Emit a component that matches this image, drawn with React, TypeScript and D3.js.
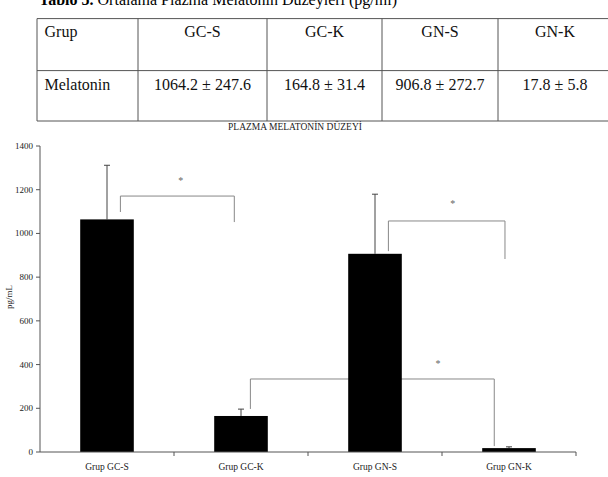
import React from "react";
import * as d3 from "d3";

const categories = ["Grup GC-S", "Grup GC-K", "Grup GN-S", "Grup GN-K"];
const means = [1064.2, 164.8, 906.8, 17.8];
const errors = [247.6, 31.4, 272.7, 5.8];
const yTicks = [0, 200, 400, 600, 800, 1000, 1200, 1400];

const tableHeader = ["Grup", "GC-S", "GC-K", "GN-S", "GN-K"];
const tableRow = ["Melatonin", "1064.2 ± 247.6", "164.8 ± 31.4", "906.8 ± 272.7", "17.8 ± 5.8"];

// significance brackets: from category/offset to category/offset, top value, leg ends, star position
const brackets = [
  { from: 0, fromOff: 0.1, to: 1, toOff: -0.05, top: 1171, fromEnd: 1098, toEnd: 1052, starCat: 0.55, starVal: 1245 },
  { from: 2, fromOff: 0.1, to: 3, toOff: -0.03, top: 1057, fromEnd: 919, toEnd: 883, starCat: 2.58, starVal: 1140 },
  { from: 1, fromOff: 0.07, to: 3, toOff: -0.11, top: 334, fromEnd: 197, toEnd: 27, starCat: 2.47, starVal: 408 },
];

const FONT = "'Liberation Serif', 'Times New Roman', serif";

export default function App() {
  const W = 608, H = 477;
  const left = 40, right = 576, top = 146, bottom = 452;
  const x = d3.scaleBand<string>().domain(categories).range([left, right]).padding(0);
  const y = d3.scaleLinear().domain([0, 1400]).range([bottom, top]);
  const bw = x.bandwidth() * 0.4;
  const cx = (i: number) => (x(categories[i]) as number) + x.bandwidth() / 2;
  const cxf = (f: number) => left + (f + 0.5) * x.bandwidth();

  const colX = [37, 138, 267, 382, 498, 612];
  const rowY = [18.6, 70.6, 121];
  const ts = { fontFamily: FONT };

  return (
    <svg width={W} height={H} style={{ position: "absolute", left: 0, top: 0, background: "#fff", fontFamily: FONT }}>
      <rect width={W} height={H} fill="#fff" />
      {/* caption (clipped at top) */}
      <text x={39} y={5} fontSize={16} fill="#000" style={ts}>
        <tspan fontWeight="bold">Tablo 5.</tspan>
        <tspan> Ortalama Plazma Melatonin Düzeyleri (pg/ml)</tspan>
      </text>
      {/* table */}
      <g stroke="#555" strokeWidth={1}>
        {rowY.map((ry, i) => (
          <line key={"r" + i} x1={colX[0]} x2={colX[colX.length - 1]} y1={ry} y2={ry} />
        ))}
        {colX.map((cxx, i) => (
          <line key={"c" + i} x1={cxx} x2={cxx} y1={rowY[0]} y2={rowY[2]} />
        ))}
      </g>
      {tableHeader.map((t, i) => (
        <text key={"h" + i} x={i === 0 ? 44.5 : (colX[i] + colX[i + 1]) / 2} y={37} fontSize={16} style={ts}
          textAnchor={i === 0 ? "start" : "middle"} fill="#111">{t}</text>
      ))}
      {tableRow.map((t, i) => (
        <text key={"v" + i} x={i === 0 ? 44.5 : (colX[i] + colX[i + 1]) / 2} y={89.5} fontSize={16} style={ts}
          textAnchor={i === 0 ? "start" : "middle"} fill="#111">{t}</text>
      ))}

      {/* chart title */}
      <text x={295} y={130} fontSize={9.5} textAnchor="middle" fill="#222" style={ts}>PLAZMA MELATONİN DÜZEYİ</text>

      {/* brackets (behind bars) */}
      <g stroke="#888" strokeWidth={1} fill="none">
        {brackets.map((b, i) => {
          const x1 = cx(b.from) + b.fromOff * x.bandwidth();
          const x2 = cx(b.to) + b.toOff * x.bandwidth();
          return (
            <path key={i} d={`M${x1},${y(b.fromEnd)}V${y(b.top)}H${x2}V${y(b.toEnd)}`} />
          );
        })}
      </g>
      {brackets.map((b, i) => (
        <text key={"s" + i} x={cxf(b.starCat)} y={y(b.starVal) + 4} fontSize={10} textAnchor="middle" fill="#666" style={ts}>*</text>
      ))}

      {/* error bars */}
      <g stroke="#444" strokeWidth={1}>
        {means.map((m, i) => (
          <g key={i}>
            <line x1={cx(i)} x2={cx(i)} y1={y(m)} y2={y(m + errors[i])} />
            <line x1={cx(i) - 3} x2={cx(i) + 3} y1={y(m + errors[i])} y2={y(m + errors[i])} />
          </g>
        ))}
      </g>
      {/* bars */}
      {means.map((m, i) => (
        <rect key={i} x={cx(i) - bw / 2} y={y(m)} width={bw} height={bottom - y(m)} fill="#000" />
      ))}

      {/* axes */}
      <g stroke="#555" strokeWidth={1}>
        <line x1={left} x2={left} y1={top} y2={bottom} />
        {yTicks.map((t) => (
          <line key={t} x1={left - 4} x2={left} y1={y(t)} y2={y(t)} />
        ))}
        <line x1={left} x2={right} y1={bottom} y2={bottom} />
        {categories.map((c) => (
          <line key={c} x1={(x(c) as number) + x.bandwidth()} x2={(x(c) as number) + x.bandwidth()} y1={bottom} y2={bottom + 4} />
        ))}
      </g>
      {yTicks.map((t) => (
        <text key={t} x={left - 7} y={y(t) + 3} fontSize={9} textAnchor="end" fill="#222" style={ts}>{t}</text>
      ))}
      <text transform={`translate(12,${297}) rotate(-90)`} fontSize={9} textAnchor="middle" fill="#222" style={ts}>pg/mL</text>
      {categories.map((c, i) => (
        <text key={c} x={cx(i)} y={470} fontSize={9.5} textAnchor="middle" fill="#222" style={ts}>{c}</text>
      ))}
    </svg>
  );
}
